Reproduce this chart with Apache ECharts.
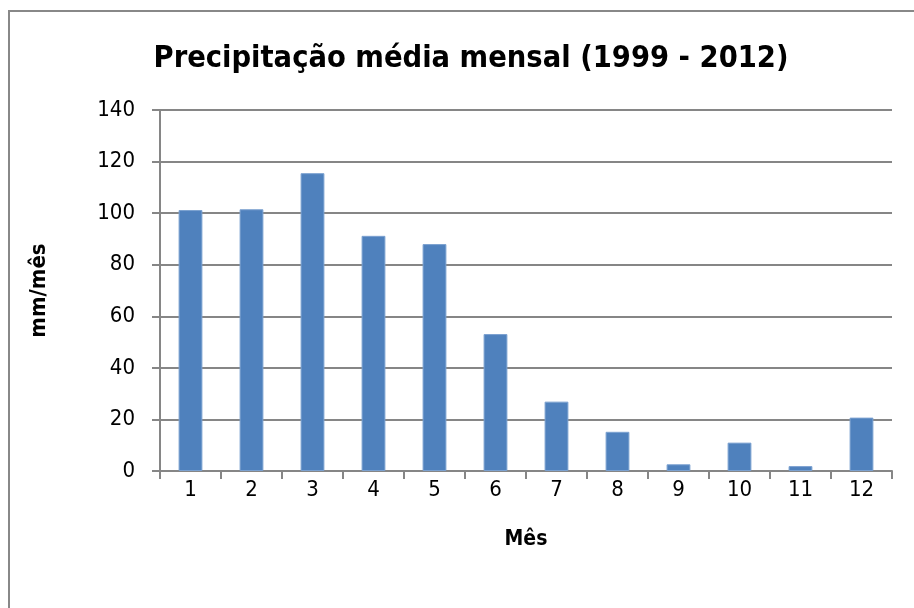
<!DOCTYPE html>
<html>
<head>
<meta charset="utf-8">
<script src="https://cdn.jsdelivr.net/npm/echarts@6/dist/echarts.min.js"></script>
<style>
html,body{margin:0;padding:0;background:#fff;}
#frame{position:absolute;left:8px;top:10px;width:920px;height:620px;border:2px solid #888;box-sizing:border-box;}
#chart{position:absolute;left:0;top:0;width:914px;height:608px;}
</style>
</head>
<body>
<div id="frame"></div>
<div id="chart"></div>
<script>
const months = ['1','2','3','4','5','6','7','8','9','10','11','12'];
const precip = [101.2, 101.5, 115.5, 91.2, 88.0, 53.1, 26.9, 15.2, 2.6, 11.0, 1.9, 20.7];
const yTicks = {min: 0, max: 140, interval: 20};

const FONT = '"DejaVu Sans Condensed", "Liberation Sans", sans-serif';
const chart = echarts.init(document.getElementById('chart'), null, {renderer: 'canvas'});
chart.setOption({
  animation: false,
  backgroundColor: 'transparent',
  title: {
    text: 'Precipitação média mensal (1999 - 2012)',
    left: 466, top: 39, textAlign: 'center',
    textStyle: {fontFamily: FONT, fontWeight: 'bold', fontSize: 30.5, color: '#000'}
  },
  grid: {left: 160, right: 22, top: 110, bottom: 137, containLabel: false},
  xAxis: {
    type: 'category',
    data: months,
    name: 'Mês',
    nameLocation: 'middle',
    nameGap: 58,
    nameTextStyle: {fontFamily: FONT, fontWeight: 'bold', fontSize: 21, color: '#000'},
    axisLine: {lineStyle: {color: '#868686', width: 2}},
    axisTick: {show: true, length: 8, lineStyle: {color: '#868686', width: 2}},
    axisLabel: {fontFamily: FONT, fontSize: 22, color: '#000', margin: 8, interval: 0}
  },
  yAxis: {
    type: 'value',
    min: yTicks.min, max: yTicks.max, interval: yTicks.interval,
    name: 'mm/mês',
    nameLocation: 'middle',
    nameGap: 110,
    nameRotate: 90,
    nameTextStyle: {fontFamily: FONT, fontWeight: 'bold', fontSize: 22, color: '#000'},
    axisLine: {show: true, lineStyle: {color: '#868686', width: 2}},
    axisTick: {show: true, length: 8, lineStyle: {color: '#868686', width: 2}},
    axisLabel: {fontFamily: FONT, fontSize: 22, color: '#000', margin: 25},
    splitLine: {show: true, lineStyle: {color: '#868686', width: 2}}
  },
  series: [{
    type: 'bar',
    data: precip,
    barWidth: '39%',
    itemStyle: {color: '#4F81BD', borderColor: '#7BA1D0', borderWidth: 1}
  }]
});
</script>
</body>
</html>
